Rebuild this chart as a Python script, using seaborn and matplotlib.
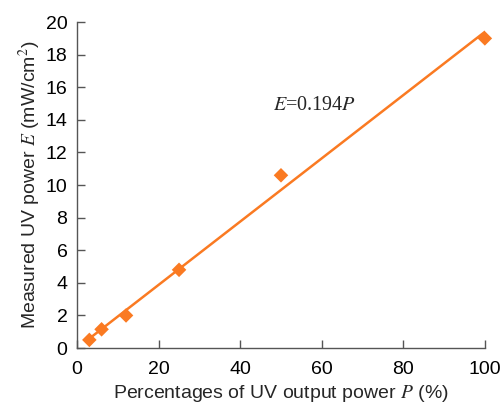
import numpy as np
import matplotlib
matplotlib.use("Agg")
import matplotlib.pyplot as plt
import seaborn as sns

# measured points
power_pct = [3, 6, 12, 25, 50, 100]
uv_power = [0.5, 1.15, 2.0, 4.8, 10.6, 19.0]
slope = 0.194
fit_x = [3, 100]

sns.set_theme(style="white")
plt.rcParams['font.family'] = ['Liberation Sans', 'DejaVu Sans']
plt.rcParams['mathtext.fontset'] = 'stix'

orange = '#FA7A22'
fig = plt.figure(figsize=(5.04, 4.09), dpi=100)
ax = fig.add_axes([0.153, 0.149, 0.809, 0.797])

fit_y = [slope * v for v in fit_x]
sns.lineplot(x=fit_x, y=fit_y, color=orange, linewidth=1.8, ax=ax)
sns.scatterplot(x=power_pct, y=uv_power, marker='D', s=55, color=orange,
                edgecolor='none', ax=ax, zorder=3, clip_on=False)

ax.set_xlim(0, 100)
ax.set_ylim(0, 20)
ax.set_xticks(range(0, 101, 20))
ax.set_yticks(range(0, 21, 2))
for s in ['top', 'right']:
    ax.spines[s].set_visible(False)
for s in ['left', 'bottom']:
    ax.spines[s].set_color('#555555')
    ax.spines[s].set_linewidth(1.0)
ax.tick_params(direction='in', length=6, width=1, color='#555555',
               labelsize=14, labelcolor='black', pad=7,
               bottom=True, left=True)
ax.tick_params(axis='x', pad=9)

ax.set_xlabel('Percentages of UV output power $P$ (%)', fontsize=14, labelpad=4)
ax.set_ylabel('Measured UV power $E$ (mW/cm$^2$)', fontsize=14, labelpad=2)
ax.text(48, 14.6, '$E$=0.194$P$', fontsize=14.5, fontname='Liberation Serif')

fig.savefig('out.png', dpi=100)
